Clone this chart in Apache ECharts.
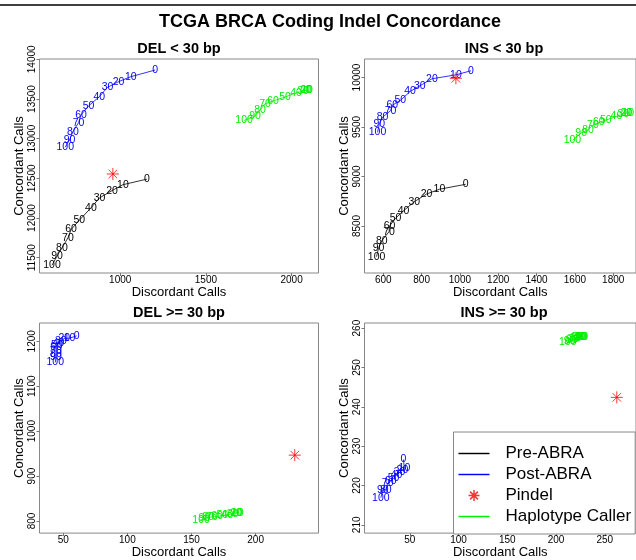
<!DOCTYPE html>
<html>
<head>
<meta charset="utf-8" />
<script src="https://cdn.jsdelivr.net/npm/echarts@6/dist/echarts.min.js"></script>
</head>
<body style="margin: 0">
<div id="container" style="width: 636px; height: 560px;"></div>
<script type="text/javascript">
// threshold labels written next to every point
const pctLabels = ['0', '10', '20', '30', '40', '50', '60', '70', '80', '90', '100'];

// DEL < 30 bp
const delSmallPreX = [1156, 1016, 952, 879, 829, 761, 713, 695, 660, 631, 602];
const delSmallPreY = [12490, 12420, 12345, 12253, 12127, 11971, 11854, 11750, 11624, 11519, 11405];
const delSmallPostX = [1204, 1062, 990, 926, 878, 815, 771, 757, 724, 704, 679];
const delSmallPostY = [13865, 13781, 13718, 13647, 13529, 13412, 13298, 13202, 13088, 12983, 12892];
const delSmallHcX = [2096, 2090, 2085, 2067, 2026, 1962, 1892, 1845, 1816, 1787, 1723];
const delSmallHcY = [13613, 13613, 13613, 13601, 13576, 13525, 13475, 13437, 13361, 13286, 13229];
const delSmallPindel = [957, 12555];

// INS < 30 bp
const insSmallPreX = [1030, 893, 826, 762, 706, 664, 633, 630, 592, 575, 565];
const insSmallPreY = [8921, 8871, 8823, 8745, 8654, 8578, 8500, 8442, 8351, 8275, 8190];
const insSmallPostX = [1058, 979, 854, 791, 740, 689, 647, 638, 596, 579, 570];
const insSmallPostY = [10068, 10027, 9987, 9916, 9859, 9768, 9719, 9665, 9598, 9527, 9446];
const insSmallHcX = [1884, 1878, 1868, 1853, 1817, 1761, 1725, 1694, 1669, 1633, 1587];
const insSmallHcY = [9641, 9641, 9640, 9630, 9605, 9570, 9545, 9520, 9470, 9440, 9364];
const insSmallPindel = [979, 9992];

// DEL >= 30 bp
const delLargePostX = [60.5, 54.9, 50.8, 48.2, 46.3, 45.1, 44.5, 44.3, 44.3, 44.3, 43.8];
const delLargePostY = [1212, 1207, 1206, 1201, 1197, 1191, 1186, 1178, 1171, 1164, 1153];
const delLargeHcX = [187, 186, 185, 182, 178, 174, 170, 166, 163, 160, 157.5];
const delLargeHcY = [818, 818, 818, 816, 814, 812, 810, 809, 808, 806, 803];
const delLargePindel = [230.5, 946.5];

// INS >= 30 bp
const insLargePostX = [43.5, 44.5, 42.5, 39.5, 36.5, 33.4, 30.4, 27.4, 25.4, 22.4, 20.4];
const insLargePostY = [226.6, 224.4, 223.9, 223.4, 222.6, 221.9, 221.1, 220.6, 218.9, 218.9, 216.9];
const insLargeHcX = [228, 227, 226, 225, 224, 222, 220, 218, 216, 214, 212];
const insLargeHcY = [257.8, 257.8, 257.8, 257.8, 257.8, 257.6, 257.4, 257.2, 257.0, 256.8, 256.4];
const insLargePindel = [262.3, 242.4];

// tick labels
const delSmallXTicks = [1000, 1500, 2000];
const delSmallYTicks = [11500, 12000, 12500, 13000, 13500, 14000];
const insSmallXTicks = [600, 800, 1000, 1200, 1400, 1600, 1800];
const insSmallYTicks = [8500, 9000, 9500, 10000];
const delLargeXTicks = [50, 100, 150, 200];
const delLargeYTicks = [800, 900, 1000, 1100, 1200];
const insLargeXTicks = [50, 100, 150, 200, 250];
const insLargeYTicks = [210, 220, 230, 240, 250, 260];

const FONT = '"Liberation Sans", Arial, sans-serif';
const ASTERISK = 'path://M0,6L12,6M6,0L6,12M1.76,1.76L10.24,10.24M10.24,1.76L1.76,10.24';
const LINE_ICON = 'path://M0,0L32,0L32,1.5L0,1.5Z';
const colors = { pre: '#000000', post: '#0000ff', pindel: '#ff0000', hc: '#00ee00' };

var dom = document.getElementById('container');
var myChart = echarts.init(dom, null, { renderer: 'canvas' });

function pts(xs, ys) {
    return xs.map(function (x, i) { return [x, ys[i], pctLabels[i]]; });
}

function labelled(name, color, gi, xs, ys) {
    return {
        name: name,
        type: 'line',
        xAxisIndex: gi,
        yAxisIndex: gi,
        symbol: 'circle',
        symbolSize: 1,
        itemStyle: { color: 'rgba(0,0,0,0)' },
        lineStyle: { color: color, width: 0.8 },
        label: {
            show: true,
            position: 'inside',
            color: color,
            fontSize: 10.5,
            fontFamily: FONT,
            formatter: function (p) { return p.value[2]; }
        },
        emphasis: { disabled: true },
        data: pts(xs, ys),
        z: 3
    };
}

function pindel(gi, p) {
    return {
        name: 'Pindel',
        type: 'scatter',
        xAxisIndex: gi,
        yAxisIndex: gi,
        symbol: ASTERISK,
        symbolSize: 12,
        itemStyle: { color: 'rgba(0,0,0,0)', borderColor: colors.pindel, borderWidth: 1 },
        emphasis: { disabled: true },
        data: [p],
        z: 4
    };
}

function plain(v) { return String(v); }

function xAx(gi, min, max, ticks) {
    return {
        type: 'value', gridIndex: gi, min: min, max: max,
        name: 'Discordant Calls', nameLocation: 'middle', nameGap: 11,
        nameTextStyle: { fontSize: 13, color: '#000', fontFamily: FONT },
        axisLine: { show: false },
        splitLine: { show: false },
        axisTick: { show: true, length: 3, customValues: ticks, lineStyle: { color: '#777' } },
        axisLabel: { customValues: ticks, formatter: plain, fontSize: 10, color: '#000', margin: 2, fontFamily: FONT }
    };
}

function yAx(gi, min, max, ticks) {
    return {
        type: 'value', gridIndex: gi, min: min, max: max,
        name: 'Concordant Calls', nameLocation: 'middle', nameGap: 14, nameRotate: 90,
        nameTextStyle: { fontSize: 13, color: '#000', fontFamily: FONT },
        axisLine: { show: false },
        splitLine: { show: false },
        axisTick: { show: true, length: 3, customValues: ticks, lineStyle: { color: '#777' } },
        axisLabel: { customValues: ticks, formatter: plain, rotate: 90, fontSize: 10, color: '#000', margin: 2, fontFamily: FONT }
    };
}

function gridBox(left, top, w, h) {
    return { left: left, top: top, width: w, height: h, show: true, borderColor: '#888', borderWidth: 1, backgroundColor: 'transparent' };
}

function titleText(x, y, text, size) {
    return {
        type: 'text', x: x, y: y,
        style: { text: text, fontSize: size, fontWeight: 'bold', fontFamily: FONT, fill: '#000', align: 'center', verticalAlign: 'middle' }
    };
}

var option = {
    animation: false,
    backgroundColor: '#fff',
    graphic: [
        { type: 'line', shape: { x1: 0, y1: 5, x2: 636, y2: 5 }, style: { stroke: '#000', lineWidth: 1.5 } },
        titleText(330, 22, 'TCGA BRCA Coding Indel Concordance', 18),
        titleText(179, 49, 'DEL < 30 bp', 14.5),
        titleText(504, 49, 'INS < 30 bp', 14.5),
        titleText(179, 313, 'DEL >= 30 bp', 14.5),
        titleText(504, 313, 'INS >= 30 bp', 14.5)
    ],
    grid: [
        gridBox(39.5, 59, 279, 214),
        gridBox(364.5, 59, 279, 214),
        gridBox(39.5, 323, 279, 215),
        gridBox(364.5, 323, 279, 215)
    ],
    xAxis: [
        xAx(0, 529, 2157, delSmallXTicks),
        xAx(1, 502, 1919, insSmallXTicks),
        xAx(2, 31.5, 249, delLargeXTicks),
        xAx(3, 3.6, 282, insLargeXTicks)
    ],
    yAxis: [
        yAx(0, 11307, 14004, delSmallYTicks),
        yAx(1, 8025, 10187, insSmallYTicks),
        yAx(2, 773, 1240.7, delLargeYTicks),
        yAx(3, 207.9, 261.3, insLargeYTicks)
    ],
    legend: {
        orient: 'vertical',
        left: 453.5,
        top: 432,
        z: 10,
        selectedMode: false,
        backgroundColor: '#fff',
        borderColor: '#888',
        borderWidth: 1,
        padding: [11, 4, 7, 5],
        itemWidth: 31,
        itemHeight: 11,
        itemGap: 0,
        textStyle: { fontSize: 17, color: '#000', fontFamily: FONT, lineHeight: 21, padding: [0, 0, 0, 11] },
        data: [
            { name: 'Pre-ABRA', icon: LINE_ICON, itemStyle: { color: colors.pre } },
            { name: 'Post-ABRA', icon: LINE_ICON, itemStyle: { color: colors.post } },
            { name: 'Pindel', icon: ASTERISK, itemStyle: { color: 'rgba(0,0,0,0)', borderColor: colors.pindel, borderWidth: 1.5 } },
            { name: 'Haplotype Caller', icon: LINE_ICON, itemStyle: { color: colors.hc } }
        ]
    },
    series: [
        labelled('Pre-ABRA', colors.pre, 0, delSmallPreX, delSmallPreY),
        labelled('Post-ABRA', colors.post, 0, delSmallPostX, delSmallPostY),
        labelled('Haplotype Caller', colors.hc, 0, delSmallHcX, delSmallHcY),
        pindel(0, delSmallPindel),
        labelled('Pre-ABRA', colors.pre, 1, insSmallPreX, insSmallPreY),
        labelled('Post-ABRA', colors.post, 1, insSmallPostX, insSmallPostY),
        labelled('Haplotype Caller', colors.hc, 1, insSmallHcX, insSmallHcY),
        pindel(1, insSmallPindel),
        labelled('Post-ABRA', colors.post, 2, delLargePostX, delLargePostY),
        labelled('Haplotype Caller', colors.hc, 2, delLargeHcX, delLargeHcY),
        pindel(2, delLargePindel),
        labelled('Post-ABRA', colors.post, 3, insLargePostX, insLargePostY),
        labelled('Haplotype Caller', colors.hc, 3, insLargeHcX, insLargeHcY),
        pindel(3, insLargePindel)
    ]
};

myChart.setOption(option);
window.addEventListener('resize', myChart.resize);
</script>
</body>
</html>
